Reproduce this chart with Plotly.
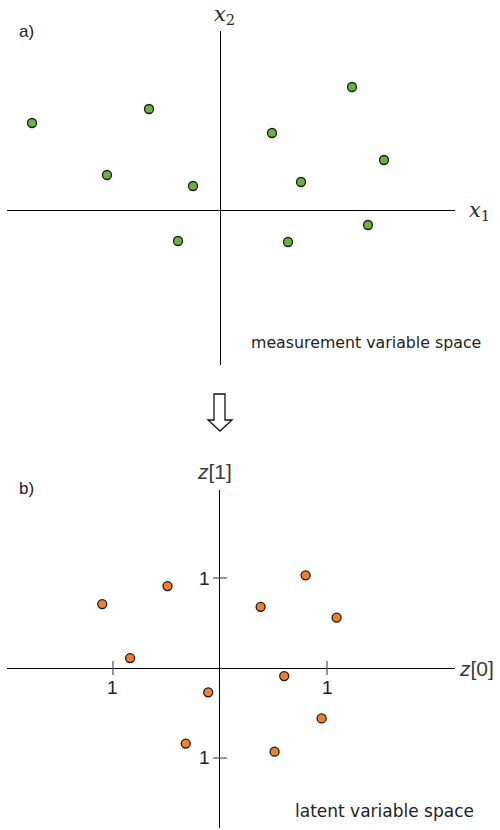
import plotly.graph_objects as go

W, H = 500, 830

# a) points in the measurement variable space
x1 = [-1.88, -1.13, -0.71, -0.27, -0.42, 0.52, 0.81, 1.32, 1.64, 0.68, 1.48]
x2 = [0.87, 0.35, 1.01, 0.24, -0.31, 0.77, 0.28, 1.23, 0.50, -0.32, -0.15]

# b) the same samples in the latent variable space
z0 = [-1.10, -0.49, 0.38, 0.80, 1.09, 0.60, -0.84, -0.11, -0.32, 0.95, 0.51]
z1 = [0.71, 0.91, 0.68, 1.03, 0.56, -0.09, 0.11, -0.27, -0.84, -0.56, -0.93]

z_ticks = [-1, 1]
z_tick_text = ["1", "1"]


def px(x, y):
    """Pixel position on the page -> paper coordinates."""
    return x / W, 1 - y / H


GREEN = "#6bb23c"
ORANGE = "#f27f2b"
EDGE = "#1a1a1a"
TEXT = "#222222"

fig = go.Figure()

fig.add_trace(go.Scatter(
    x=x1, y=x2, mode="markers", xaxis="x", yaxis="y",
    marker=dict(size=9, color=GREEN, line=dict(width=1.3, color=EDGE)),
    hoverinfo="skip", showlegend=False,
))

fig.add_trace(go.Scatter(
    x=z0, y=z1, mode="markers", xaxis="x2", yaxis="y2",
    marker=dict(size=9, color=ORANGE, line=dict(width=1.3, color=EDGE)),
    hoverinfo="skip", showlegend=False,
))

# tick marks crossing the latent axes
fig.add_trace(go.Scatter(
    x=z_ticks, y=[0] * len(z_ticks), mode="markers", xaxis="x2", yaxis="y2",
    marker=dict(symbol="line-ns", size=10, line=dict(width=1.2, color="#555555")),
    hoverinfo="skip", showlegend=False,
))
fig.add_trace(go.Scatter(
    x=[0] * len(z_ticks), y=z_ticks, mode="markers", xaxis="x2", yaxis="y2",
    marker=dict(symbol="line-ew", size=10, line=dict(width=1.2, color="#555555")),
    hoverinfo="skip", showlegend=False,
))

axis_common = dict(
    showgrid=False, zeroline=True, zerolinecolor="#000000", zerolinewidth=1.3,
    showticklabels=False, ticks="", showline=False, fixedrange=True,
)

annotations = []

# tick labels on the latent axes
for v, t in zip(z_ticks, z_tick_text):
    annotations.append(dict(
        x=v, y=0, xref="x2", yref="y2", text=t, showarrow=False,
        yshift=-19, font=dict(family="Liberation Sans", size=19, color=TEXT),
    ))
    annotations.append(dict(
        x=0, y=v, xref="x2", yref="y2", text=t, showarrow=False,
        xshift=-15, font=dict(family="Liberation Sans", size=19, color=TEXT),
    ))


def label(x, y, text, size, family, color=TEXT, xanchor="center"):
    ax, ay = px(x, y)
    annotations.append(dict(
        x=ax, y=ay, xref="paper", yref="paper", text=text, showarrow=False,
        xanchor=xanchor, yanchor="middle",
        font=dict(family=family, size=size, color=color),
    ))


AXIS_LABEL = "#2a2a2a"
label(224, 15, "<i>x</i><sub>2</sub>", 21, "DejaVu Serif", AXIS_LABEL)
label(479, 211, "<i>x</i><sub>1</sub>", 21, "DejaVu Serif", AXIS_LABEL)
label(214, 471, "<i>z</i>[1]", 21, "Liberation Sans", "#3a3a3a")
label(476, 668, "<i>z</i>[0]", 21, "Liberation Sans", "#3a3a3a")

label(17, 31, "a)", 17, "Liberation Sans", xanchor="left")
label(17, 488, "b)", 17, "Liberation Sans", xanchor="left")
label(249, 342, "measurement variable space", 15.8, "DejaVu Sans", xanchor="left")
label(293, 811, "latent variable space", 17, "DejaVu Sans", xanchor="left")

# hollow arrow between the two panels
arrow_pts = [(214, 394), (225, 394), (225, 420), (232, 420), (220, 431), (208, 420), (214, 420)]
path = "M " + " L ".join(f"{px(a, b)[0]:.5f},{px(a, b)[1]:.5f}" for a, b in arrow_pts) + " Z"

fig.update_layout(
    width=W, height=H,
    margin=dict(l=0, r=0, t=0, b=0),
    paper_bgcolor="white", plot_bgcolor="white",
    xaxis=dict(domain=[7 / W, 455 / W], range=[-2.13, 2.35], anchor="y", **axis_common),
    yaxis=dict(domain=[1 - 365 / H, 1 - 31 / H], range=[-1.55, 1.79], anchor="x", **axis_common),
    xaxis2=dict(domain=[7 / W, 455 / W], range=[-1.99, 2.196], anchor="y2", **axis_common),
    yaxis2=dict(domain=[1 - 828 / H, 1 - 490 / H], range=[-1.778, 1.978], anchor="x2", **axis_common),
    annotations=annotations,
    shapes=[dict(type="path", path=path, xref="paper", yref="paper",
                 line=dict(color="#111111", width=1.3), fillcolor="white")],
    showlegend=False,
)

fig.write_html("out.html", config={"displayModeBar": False})
